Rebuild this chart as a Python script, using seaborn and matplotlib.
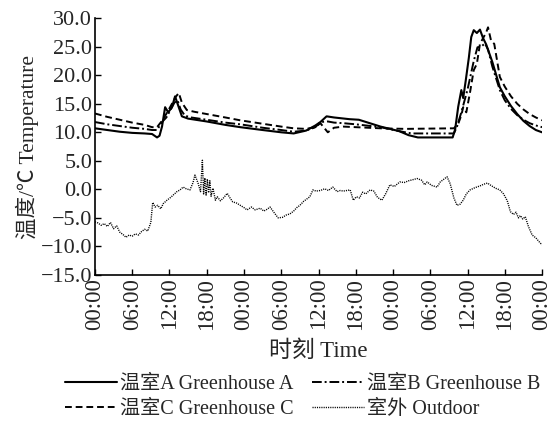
import matplotlib
matplotlib.use("Agg")
import matplotlib.pyplot as plt
import seaborn as sns
import pandas as pd

sns.set_theme(style="ticks")
plt.rcParams['font.family'] = ['Liberation Serif', 'Noto Sans CJK SC', 'DejaVu Sans']
plt.rcParams['axes.unicode_minus'] = True

# ---- data (hours since start, temperature degC) ----
a_hours = [0, 2, 4, 6, 8, 9.2, 10.0, 10.4, 10.8, 11.3, 11.8, 12.4, 12.9, 13.4, 14.0, 15.0, 18.0, 21.0, 23.4,
           27.0, 30.0, 32.0, 34.0, 35.5, 36.3, 37.3, 38.5, 41.0, 42.5, 46.0, 49.0, 50.5, 52.0, 57.6,
           58.0, 58.5, 59.0, 59.3, 59.7, 60.2, 60.6, 61.0, 61.5, 62.0, 62.5, 63.0, 64.0, 65.2, 66.0, 67.0,
           68.0, 69.0, 70.0, 71.0, 72.0]
a_temp = [10.7, 10.4, 10.1, 9.9, 9.8, 9.7, 9.1, 9.4, 11.0, 14.4, 13.5, 14.4, 16.3, 14.7, 12.8, 12.4, 11.9, 11.3, 10.9,
          10.4, 10.0, 9.8, 10.3, 11.2, 11.8, 12.8, 12.6, 12.3, 12.2, 11.0, 10.2, 9.5, 9.1, 9.1,
          10.5, 14.5, 17.4, 16.0, 19.0, 23.0, 26.7, 27.9, 27.4, 28.0, 26.5, 25.4, 22.3, 17.9, 16.3, 14.6,
          13.2, 12.0, 11.1, 10.4, 10.0]

b_hours = [0, 2, 4, 6, 8, 9.2, 10.0, 10.8, 11.5, 12.2, 12.8, 13.3, 13.8, 14.5, 15.5, 18.0, 21.0, 23.4,
           27.0, 30.0, 32.0, 34.0, 35.5, 36.3, 37.5, 38.5, 40.0, 42.0, 46.0, 49.0, 51.0, 57.8,
           58.3, 59.0, 59.5, 60.0, 60.5, 61.0, 61.6, 62.2, 62.8, 63.3, 64.0, 65.2, 66.0, 67.0, 68.0,
           69.0, 70.0, 71.0, 72.0]
b_temp = [11.8, 11.4, 11.1, 10.8, 10.6, 10.4, 10.4, 11.8, 12.6, 14.0, 15.2, 15.6, 14.0, 12.9, 12.6, 12.2, 11.7, 11.4,
          10.8, 10.4, 10.1, 10.3, 10.9, 11.8, 11.9, 11.7, 11.6, 11.4, 10.9, 10.2, 9.8, 9.8,
          11.0, 13.5, 15.5, 17.5, 20.0, 22.5, 24.9, 25.0, 25.6, 24.5, 21.5, 17.4, 15.6, 14.1, 13.0,
          12.2, 11.6, 11.2, 10.9]

c_hours = [0, 2, 4, 6, 8, 9.2, 10.0, 11.0, 12.1, 13.0, 13.5, 14.0, 14.8, 16.0, 18.0, 21.0, 23.4,
           27.0, 30.0, 32.0, 34.0, 35.5, 36.3, 37.5, 38.5, 40.0, 42.0, 46.0, 50.0, 57.8,
           58.5, 59.0, 59.3, 59.8, 60.4, 61.0, 61.5, 62.0, 62.5, 63.0, 63.3, 63.8, 64.3, 65.2, 66.0,
           67.0, 68.0, 69.0, 70.0, 71.0, 72.0]
c_temp = [13.3, 12.7, 12.2, 11.7, 11.3, 10.9, 10.9, 12.3, 14.4, 16.2, 16.9, 15.2, 13.9, 13.6, 13.2, 12.6, 12.1,
          11.5, 11.0, 10.7, 10.6, 10.9, 11.6, 10.0, 10.8, 11.0, 10.9, 10.7, 10.6, 10.7,
          11.5, 13.0, 14.4, 13.5, 17.0, 20.9, 22.0, 25.5, 26.5, 27.5, 28.4, 26.0, 25.5, 19.7, 18.0,
          16.3, 15.0, 14.0, 13.2, 12.6, 12.1]

out_hours = [0, 0.5, 1, 1.5, 2, 2.5, 3, 3.5, 4, 4.5, 5, 5.5, 6, 6.5, 7, 7.5, 8, 8.5, 9, 9.3, 9.7, 10.1, 10.6,
             11, 11.6, 12.2, 12.7, 13.2, 13.7, 14.2, 14.7, 15.3, 15.8, 16.1, 16.6, 17.0, 17.3, 17.5, 17.7,
             17.9, 18.1, 18.3, 18.5, 18.7, 19.0, 19.4, 19.7, 20.2, 20.7, 21.3, 21.8, 22.2, 22.8, 23.4, 24,
             24.5, 25.2, 25.8, 26.6, 27.2, 27.7, 28.2, 28.8, 29.5, 30.2, 30.8, 31.4, 32.0, 32.5, 33.0,
             33.6, 34.1, 34.6, 35.1, 35.6, 36.3, 37, 37.6, 38.3, 39, 39.5, 40, 40.6, 41.1, 41.6, 42.1,
             42.6, 43.1, 43.6, 44.3, 44.9, 45.5, 46.2, 46.8, 47.5, 48.2, 49.1, 49.8, 50.5, 51.2, 51.9,
             52.6, 53.1, 53.5, 54.2, 55.1, 55.6, 56.1, 56.7, 57.2, 57.8, 58.3, 58.8, 59.3, 59.8, 60.4,
             61.2, 62.0, 62.6, 63.2, 63.9, 64.5, 65.2, 65.8, 66.4, 66.9, 67.4, 67.8, 68.2, 68.5, 68.9,
             69.3, 69.8, 70.4, 71.0, 71.7, 72]
out_temp = [-5.7, -5.9, -6.3, -6.0, -6.5, -5.8, -6.9, -6.4, -7.5, -7.9, -8.4, -8.0, -8.2, -7.8, -8.0, -7.4,
            -7.0, -7.3, -5.8, -2.3, -3.1, -2.8, -3.4, -2.5, -1.9, -1.4, -0.9, -0.4, -0.1, 0.4, 0.1, -0.1,
            1.2, 2.5, 1.1, -0.4, 5.1, -0.8, 2.0, -1.0, 1.8, -0.6, 1.5, -1.2, 0.2, -1.9, -1.3, -2.0, -1.5,
            -0.7, -1.6, -2.2, -2.4, -2.8, -3.2, -3.6, -3.1, -3.6, -3.3, -3.8, -3.5, -3.1, -4.0, -5.0, -4.9,
            -4.5, -4.3, -3.8, -3.2, -2.8, -2.1, -1.7, -1.3, -0.1, -0.3, -0.2, 0.1, -0.2, 0.4, -0.4, -0.2,
            -0.3, -0.2, -0.1, -1.9, -1.3, -1.5, -0.5, -0.8, -0.1, -0.3, -1.4, -1.9, -0.8, 0.8, 0.5, 1.3,
            1.2, 1.5, 1.7, 1.9, 1.6, 0.8, 1.3, 0.7, 0.4, 1.3, 1.7, 2.2, 1.0, -1.5, -2.8, -2.6, -1.9, -0.8,
            -0.1, 0.3, 0.6, 0.9, 1.1, 0.6, 0.2, -0.1, -0.8, -2.0, -3.9, -4.4, -4.0, -5.0, -4.6, -5.2, -4.8,
            -6.5, -8.0, -8.5, -9.4, -9.7]

series_names = ["温室A Greenhouse A", "温室B Greenhouse B", "温室C Greenhouse C", "室外 Outdoor"]
tick_hours = list(range(0, 73, 6))
tick_labels = ["00:00", "06:00", "12:00", "18:00"] * 3 + ["00:00"]
y_ticks = [-15, -10, -5, 0, 5, 10, 15, 20, 25, 30]

# ---- figure ----
fig = plt.figure(figsize=(5.52, 4.23), dpi=100)
ax = fig.add_axes([0.172, 0.350, 0.810, 0.607])

styles = [
    (a_hours, a_temp, "-", 1.5),
    (b_hours, b_temp, (0, (5, 1.5, 1, 1.5)), 1.4),
    (c_hours, c_temp, (0, (3.5, 2)), 1.4),
    (out_hours, out_temp, (0, (0.8, 0.8)), 1.0),
]
for (h, t, ls, lw), name in zip(styles, series_names):
    df = pd.DataFrame({"hour": h, "temp": t})
    sns.lineplot(data=df, x="hour", y="temp", ax=ax, color="black", linestyle=ls,
                 linewidth=lw, label=name, legend=False)

ax.set_xlim(0, 72)
ax.set_ylim(-15, 30)
ax.set_xticks(tick_hours)
ax.set_xticklabels(tick_labels, rotation=90, fontsize=16.5)
ax.set_yticks(y_ticks)
ax.set_yticklabels([f"{v:.1f}".replace("-", "\u2212") for v in y_ticks], fontsize=16)
ax.tick_params(direction="in", length=4, width=1, color="black", pad=2)
for s in ["top", "right"]:
    ax.spines[s].set_visible(False)
for s in ["left", "bottom"]:
    ax.spines[s].set_color("black")
    ax.spines[s].set_linewidth(1.2)

ax.set_xlabel("时刻 Time", fontsize=16.5, labelpad=8)
ax.set_ylabel("温度/℃ Temperature", fontsize=15.5, labelpad=1)

handles, labels = ax.get_legend_handles_labels()
order = [0, 2, 1, 3]
fig.legend([handles[i] for i in order], [labels[i] for i in order], loc="upper center",
           bbox_to_anchor=(0.548, 0.138), ncol=2, frameon=False, fontsize=14.5,
           handlelength=2.6, handletextpad=0.15, columnspacing=0.9, labelspacing=0.3,
           borderpad=0.0)

fig.savefig("out.png", dpi=100, facecolor="white")
